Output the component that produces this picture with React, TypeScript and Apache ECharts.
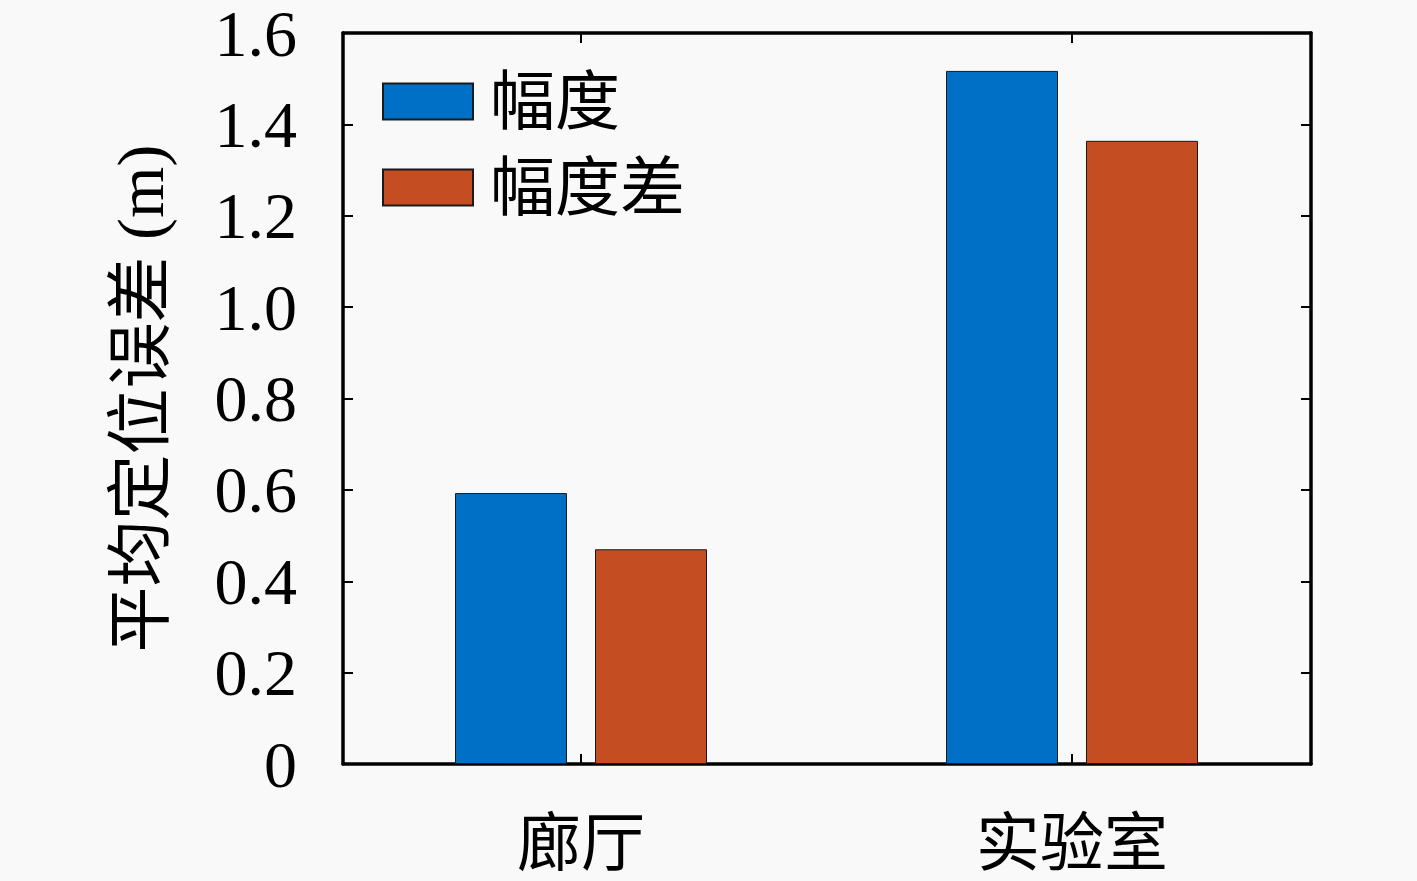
import React, { useEffect, useRef } from "react";
import * as echarts from "echarts";

const categories = ["廊厅", "实验室"];
const seriesNames = ["幅度", "幅度差"];
const amplitude = [0.593, 1.517];
const amplitudeDiff = [0.47, 1.364];
const yTicks = { min: 0, max: 1.6, interval: 0.2 };
const yTitle = "平均定位误差 (m)";

const FONT = "'Liberation Serif', 'Noto Sans CJK SC', serif";
const BLUE = "#0070C6";
const RED = "#C54D22";

export default function App() {
  const ref = useRef<HTMLDivElement>(null);
  useEffect(() => {
    document.body.style.margin = "0";
    const chart = echarts.init(ref.current!, undefined, { renderer: "svg" });
    const frameLine = { show: true, onZero: false, lineStyle: { color: "#000", width: 3.5 } };
    const tick = { show: true, inside: true, length: 10, lineStyle: { color: "#000", width: 2 } };
    chart.setOption({
      animation: false,
      backgroundColor: "#f9f9f9",
      grid: [
        { left: 343, top: 33, width: 968, height: 731 },
        { left: 335.5, top: 33, width: 982, height: 731 },
      ],
      legend: {
        orient: "vertical",
        left: 382,
        top: 69,
        padding: 0,
        itemWidth: 90,
        itemHeight: 36,
        itemGap: 21,
        icon: "rect",
        data: seriesNames,
        textStyle: {
          fontFamily: FONT,
          fontSize: 65,
          lineHeight: 64,
          color: "#000",
          padding: [0, 0, 0, 12],
        },
      },
      xAxis: [
        {
          gridIndex: 0, type: "value", min: 0, max: 1, position: "bottom",
          axisLine: frameLine, axisTick: { show: false }, axisLabel: { show: false }, splitLine: { show: false },
        },
        {
          gridIndex: 0, type: "value", min: 0, max: 1, position: "top",
          axisLine: frameLine, axisTick: { show: false }, axisLabel: { show: false }, splitLine: { show: false },
        },
        {
          gridIndex: 1, type: "category", data: categories, position: "bottom",
          axisLine: { show: false },
          axisTick: { ...tick, alignWithLabel: true },
          axisLabel: { fontFamily: FONT, fontSize: 64, lineHeight: 64, color: "#000", margin: 47 },
          splitLine: { show: false },
        },
        {
          gridIndex: 1, type: "category", data: categories, position: "top",
          axisLine: { show: false },
          axisTick: { ...tick, alignWithLabel: true },
          axisLabel: { show: false },
          splitLine: { show: false },
        },
      ],
      yAxis: [
        {
          gridIndex: 0, type: "value", ...yTicks, position: "left",
          name: yTitle, nameLocation: "middle", nameGap: 170,
          nameTextStyle: { fontFamily: FONT, fontSize: 66, color: "#000" },
          axisLine: frameLine,
          axisTick: tick,
          axisLabel: {
            fontFamily: FONT, fontSize: 66, lineHeight: 52, color: "#000", margin: 46,
            padding: [0, 0, 8, 0],
            formatter: (v: number) => (v === 0 ? "0" : v.toFixed(1)),
          },
          splitLine: { show: false },
        },
        {
          gridIndex: 0, type: "value", ...yTicks, position: "right",
          axisLine: frameLine,
          axisTick: tick,
          axisLabel: { show: false },
          splitLine: { show: false },
        },
        {
          gridIndex: 1, type: "value", ...yTicks, show: false, splitLine: { show: false },
        },
      ],
      series: [
        {
          name: seriesNames[0], type: "bar", xAxisIndex: 2, yAxisIndex: 2,
          data: amplitude, barWidth: 112, barGap: "25%",
          itemStyle: { color: BLUE, borderColor: "#1a1a1a", borderWidth: 1 },
        },
        {
          name: seriesNames[1], type: "bar", xAxisIndex: 2, yAxisIndex: 2,
          data: amplitudeDiff, barWidth: 112, barGap: "25%",
          itemStyle: { color: RED, borderColor: "#1a1a1a", borderWidth: 1 },
        },
      ],
    });
    return () => chart.dispose();
  }, []);
  return (
    <div
      ref={ref}
      style={{ position: "fixed", left: 0, top: 0, width: 1417, height: 881 }}
    />
  );
}
